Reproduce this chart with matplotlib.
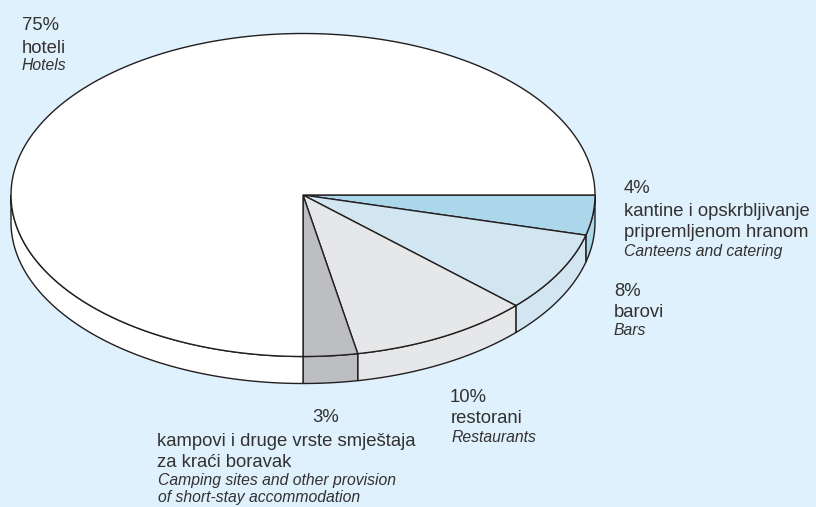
import numpy as np
import matplotlib
matplotlib.use("Agg")
import matplotlib.pyplot as plt
from matplotlib.patches import Polygon

plt.rcParams['font.family'] = ['Liberation Sans', 'DejaVu Sans']

# Slice shares, clockwise on screen, starting from the 3 o'clock edge
shares = [4, 8, 10, 3, 75]
slice_colors = ['#acd6e9', '#d2e6f2', '#e6e7e9', '#bcbec1', '#ffffff']
percent_labels = ['4%', '8%', '10%', '3%', '75%']

BG = '#dff1fc'
INK = '#231f20'
TEXT = '#333132'
CX, CY = 303, 195
RX, RY = 292, 161.5
DEPTH = 27

fig = plt.figure(figsize=(8.16, 5.07), dpi=100, facecolor=BG)
ax = fig.add_axes([0, 0, 1, 1])
ax.set_xlim(0, 816)
ax.set_ylim(507, 0)
ax.axis('off')


def rim(a0, a1, dy=0):
    t = np.radians(np.linspace(a0, a1, 200))
    return np.column_stack([CX + RX*np.cos(t), CY + dy + RY*np.sin(t)])


edges = np.concatenate([[0], np.cumsum(shares)]) * 3.6

# side wall first, only the front half of the pie shows it
for i, c in enumerate(slice_colors):
    a0, a1 = edges[i], min(edges[i+1], 180)
    wall = np.vstack([rim(a0, a1), rim(a0, a1, DEPTH)[::-1]])
    ax.add_patch(Polygon(wall, closed=True, fc=c, ec=INK, lw=1.0, zorder=2))

# top faces
for i, c in enumerate(slice_colors):
    face = np.vstack([[CX, CY], rim(edges[i], edges[i+1])])
    ax.add_patch(Polygon(face, closed=True, fc=c, ec=INK, lw=1.0, zorder=4, joinstyle='round'))

S1, S2 = 13.3, 11.3
TXT = dict(color=TEXT, va='baseline', ha='left', zorder=6)

ax.text(22, 30, percent_labels[4], fontsize=S1, **TXT)
ax.text(22, 53, 'hoteli', fontsize=S1, **TXT)
ax.text(22, 70.5, 'Hotels', fontsize=S2, style='italic', **TXT)

ax.text(624, 192.7, percent_labels[0], fontsize=S1, **TXT)
ax.text(624, 215.7, 'kantine i opskrbljivanje', fontsize=S1, **TXT)
ax.text(624, 236.7, 'pripremljenom hranom', fontsize=S1, **TXT)
ax.text(624, 256, 'Canteens and catering', fontsize=S2, style='italic', **TXT)

ax.text(614, 296, percent_labels[1], fontsize=S1, **TXT)
ax.text(614, 316.7, 'barovi', fontsize=S1, **TXT)
ax.text(614, 335, 'Bars', fontsize=S2, style='italic', **TXT)

ax.text(450, 402, percent_labels[2], fontsize=S1, **TXT)
ax.text(451, 423, 'restorani', fontsize=S1, **TXT)
ax.text(451.5, 442, 'Restaurants', fontsize=S2, style='italic', **TXT)

ax.text(312, 422, percent_labels[3], fontsize=S1, **TXT)
ax.text(157, 445.7, 'kampovi i druge vrste smještaja', fontsize=S1, **TXT)
ax.text(157, 467, 'za kraći boravak', fontsize=S1, **TXT)
ax.text(158, 485, 'Camping sites and other provision', fontsize=S2, style='italic', **TXT)
ax.text(158, 502, 'of short-stay accommodation', fontsize=S2, style='italic', **TXT)

fig.savefig('out.png', dpi=100, facecolor=BG)
